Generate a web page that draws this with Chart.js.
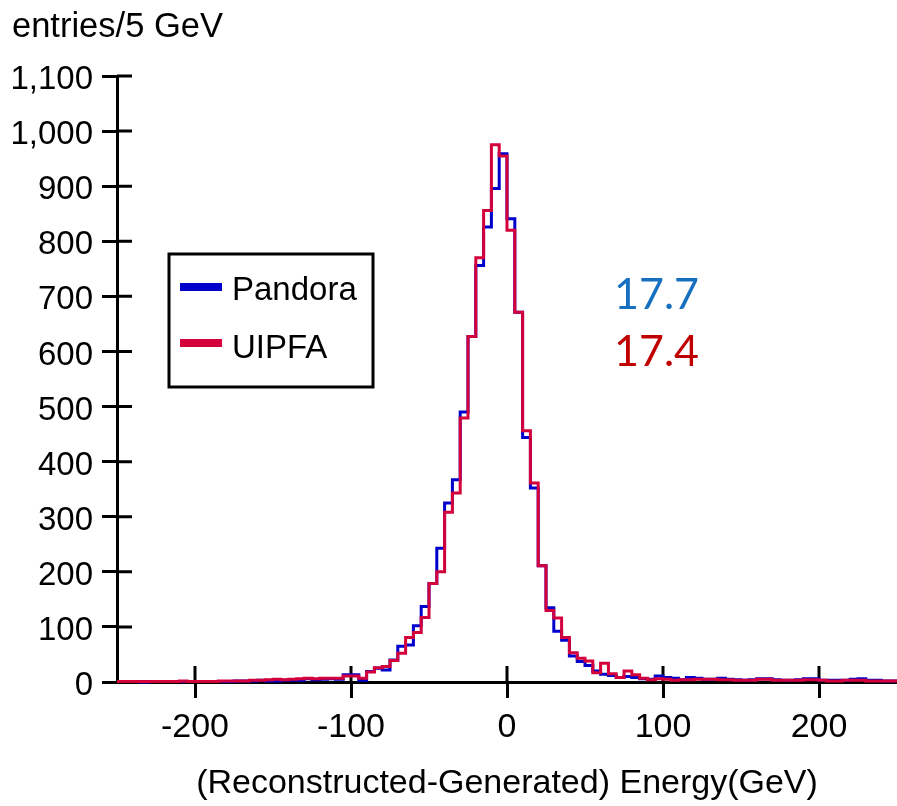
<!DOCTYPE html>
<html><head><meta charset="utf-8">
<script src="https://cdn.jsdelivr.net/npm/chart.js@4.4.0/dist/chart.umd.min.js"></script>
<style>html,body{margin:0;padding:0;background:#fff;} #wrap{width:897px;height:806px;}</style>
</head><body><div id="wrap"><canvas id="c" width="897" height="806"></canvas></div>
<script>
// ---- data ----
const binStart = -250;   // GeV, lower edge of first bin
const binWidth = 5;      // GeV
const pandora = [
  1,1,1,0,1,1,1,1,1,1,   1,1,1,1,1,2,2,2,3,2,
  2,3,3,3,6,4,5,6,5,13,  13,3,19,25,22,40,65,67,102,137,
  179,243,325,367,490,627,756,826,896,959,
  841,671,444,352,211,135,92,76,47,37,
  30,20,14,12,8,10,8,6,5,11,
  8,7,4,8,7,5,5,7,5,4,
  3,4,6,6,4,3,3,4,6,6,
  3,3,3,3,5,6,3,3,2,2
];
const uipfa = [
  1,1,1,1,1,1,1,1,2,1,   1,1,1,2,2,2,2,3,3,4,
  5,4,5,6,7,6,7,7,7,11,  11,7,18,26,28,39,52,81,90,117,
  179,200,308,343,479,627,770,856,975,955,
  820,671,456,361,211,130,116,81,53,43,
  38,17,34,15,8,20,13,7,4,6,
  5,3,4,4,5,5,5,4,4,3,
  3,3,5,5,3,3,3,3,4,4,
  3,2,2,3,3,3,2,2,2,2
];
const seriesNames = ['Pandora', 'UIPFA'];
const resolutions = ['17.7', '17.4'];
const xTickValues = [-200, -100, 0, 100, 200];
const yTickMax = 1100;
const yTickStep = 100;
const xTitle = '(Reconstructed-Generated) Energy(GeV)';
const yTitle = 'entries/5 GeV';

// ---- styles ----
const BLUE = '#0000cc';
const RED = '#d4003c';
const FONT = '"Liberation Sans", Arial, Helvetica, sans-serif';

function toSteps(vals) {
  const pts = vals.map((v, i) => ({x: binStart + i * binWidth, y: v}));
  pts.push({x: binStart + vals.length * binWidth, y: vals[vals.length - 1]});
  return pts;
}

const decor = {
  id: 'decor',
  beforeDatasetsDraw(chart) {
    const {ctx, chartArea: a, scales: {x, y}} = chart;
    ctx.save();
    ctx.strokeStyle = '#000';
    ctx.lineWidth = 3;
    ctx.beginPath();
    x.ticks.forEach(t => { const px = x.getPixelForValue(t.value); ctx.moveTo(px, a.bottom); ctx.lineTo(px, a.bottom - 16); });
    y.ticks.forEach(t => { const py = y.getPixelForValue(t.value); ctx.moveTo(a.left, py); ctx.lineTo(a.left + 15, py); });
    ctx.stroke();
    ctx.restore();
  },
  afterDraw(chart) {
    const {ctx} = chart;
    ctx.save();
    // y title
    ctx.fillStyle = '#000';
    ctx.font = '34.5px ' + FONT;
    ctx.textAlign = 'left';
    ctx.textBaseline = 'alphabetic';
    ctx.fillText(yTitle, 12, 37);
    // legend
    ctx.font = '33px ' + FONT;
    ctx.fillStyle = '#fff';
    ctx.fillRect(169, 254, 204, 133);
    ctx.strokeStyle = '#000';
    ctx.lineWidth = 3;
    ctx.strokeRect(169, 254, 204, 133);
    const cols = [BLUE, RED];
    const ys = [287, 343];
    const ty = [291, 349];
    seriesNames.forEach((n, i) => {
      ctx.fillStyle = cols[i];
      ctx.fillRect(180, ys[i] - 4, 42, 8);
      ctx.fillStyle = '#000';
      ctx.textBaseline = 'middle';
      ctx.fillText(n, 232, ty[i]);
    });
    // resolution annotations
    ctx.font = '43px Lato, "Open Sans", sans-serif';
    ctx.textBaseline = 'alphabetic';
    ctx.fillStyle = '#1670bf';
    ctx.fillText(resolutions[0], 614, 309);
    ctx.fillStyle = '#c00000';
    ctx.fillText(resolutions[1], 614, 366);
    ctx.restore();
  }
};

new Chart(document.getElementById('c'), {
  type: 'line',
  data: {
    datasets: [
      {label: seriesNames[1], data: toSteps(uipfa), borderColor: RED, borderWidth: 3, stepped: 'before', pointRadius: 0, fill: false, order: 0, clip: false},
      {label: seriesNames[0], data: toSteps(pandora), borderColor: BLUE, borderWidth: 3, stepped: 'before', pointRadius: 0, fill: false, order: 1, clip: false}
    ]
  },
  options: {
    responsive: false,
    animation: false,
    devicePixelRatio: 1,
    layout: {padding: {left: 0, right: 0, top: 76, bottom: 0}},
    plugins: {legend: {display: false}, tooltip: {enabled: false}, title: {display: false}},
    scales: {
      x: {
        type: 'linear',
        min: binStart,
        max: binStart + pandora.length * binWidth,
        afterBuildTicks: s => { s.ticks = xTickValues.map(v => ({value: v})); },
        afterFit: s => { s.height = 124; },
        border: {display: true, color: '#000', width: 3},
        grid: {display: true, drawOnChartArea: false, drawTicks: true, tickLength: 16, tickColor: '#000', tickWidth: 3, lineWidth: 3},
        ticks: {color: '#000', font: {family: FONT, size: 34}, padding: 9, maxRotation: 0, autoSkip: false},
        title: {display: true, text: xTitle, color: '#000', font: {family: FONT, size: 34}, padding: {top: 0, bottom: 2}}
      },
      y: {
        type: 'linear',
        min: 0,
        max: yTickMax,
        afterFit: s => { s.width = 117; },
        border: {display: true, color: '#000', width: 3},
        grid: {display: true, drawOnChartArea: false, drawTicks: true, tickLength: 15, tickColor: '#000', tickWidth: 3, lineWidth: 3},
        ticks: {stepSize: yTickStep, color: '#000', font: {family: FONT, size: 33}, padding: 9, autoSkip: false, labelOffset: 4,
          callback: v => v.toLocaleString('en-US')}
      }
    }
  },
  plugins: [decor]
});
</script>
</body></html>
